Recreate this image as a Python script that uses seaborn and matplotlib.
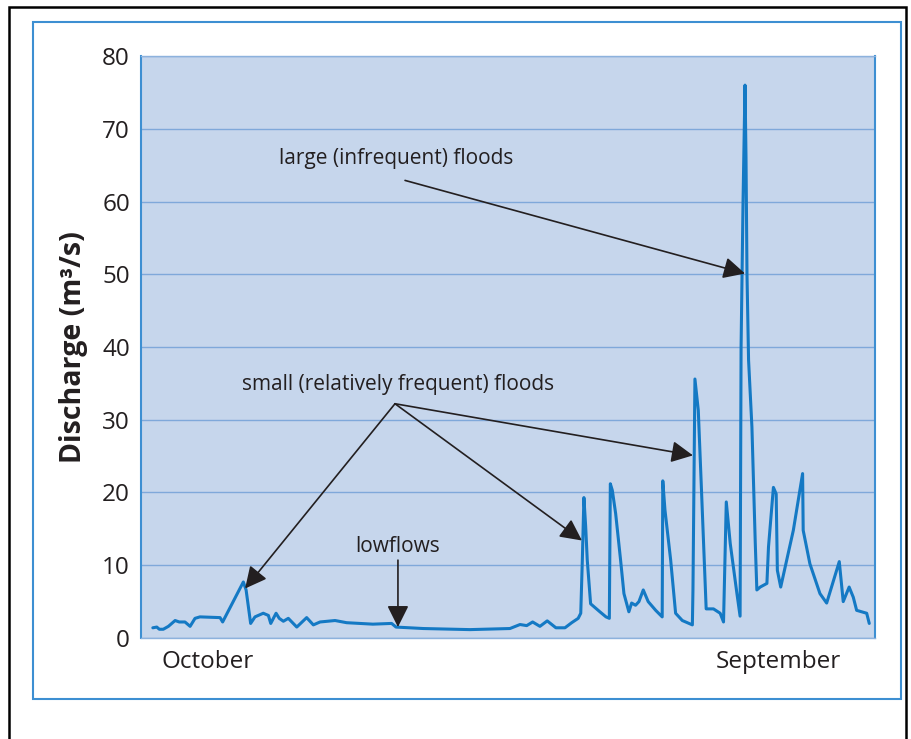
import numpy as np
import pandas as pd
import seaborn as sns
import matplotlib.pyplot as plt
from matplotlib.patches import Rectangle

# %% data: day of water year (Oct -> Sep) and discharge (m3/s), read off the hydrograph
day = [0.4, 2.4, 3.7, 5.7, 8.3, 11.7, 13.8, 16.7, 19.3, 21.8, 24.3, 34.5, 35.8,
       46.3, 47.7, 50.0, 52.2, 56.4, 59.0, 60.2, 62.9, 64.5, 66.6, 69.1, 73.4,
       78.4, 81.8, 85.2, 92.8, 98.7, 112.0, 121.5, 123.7, 137.5, 161.2, 181.5,
       186.6, 190.0, 193.0, 196.7, 200.4, 204.8, 209.4, 212.8, 216.1, 217.4,
       218.2, 219.0, 219.9, 220.7, 222.4, 227.1, 230.2, 231.9, 232.4, 233.4,
       235.1, 237.6, 239.3, 241.8, 243.2, 245.2, 246.9, 249.1, 251.6, 255.4,
       258.7, 259.0, 260.1, 263.0, 265.5, 268.9, 272.3, 274.0, 274.3, 275.3,
       277.0, 278.7, 281.0, 284.7, 288.1, 289.8, 291.2, 293.2, 296.6, 298.2,
       298.7, 299.7, 300.7, 301.2, 301.7, 302.5, 304.2, 305.9, 306.7, 308.4,
       311.8, 312.6, 315.1, 316.5, 317.1, 318.8, 325.2, 329.9, 330.2, 333.6,
       338.7, 342.1, 348.5, 350.5, 353.5, 355.6, 357.3, 362.4, 363.7]
discharge = [1.4, 1.5, 1.2, 1.2, 1.6, 2.4, 2.2, 2.2, 1.6, 2.7, 2.9, 2.8, 2.2,
             7.7, 6.6, 2.0, 2.9, 3.4, 3.1, 2.0, 3.4, 2.7, 2.3, 2.7, 1.5,
             2.8, 1.8, 2.2, 2.4, 2.1, 1.9, 2.0, 1.5, 1.3, 1.15, 1.3,
             1.85, 1.7, 2.2, 1.6, 2.35, 1.4, 1.4, 2.1, 2.7, 3.4,
             10.7, 19.3, 15.3, 10.7, 4.7, 3.6, 2.9, 2.7, 21.2, 20.3,
             17.1, 10.7, 6.1, 3.6, 4.8, 4.5, 5.0, 6.6, 5.0, 3.8,
             2.9, 21.6, 17.6, 10.7, 3.4, 2.4, 2.0, 1.8, 6.6, 35.6,
             31.3, 19.8, 4.0, 4.0, 3.4, 2.2, 18.7, 13.0, 6.1, 3.0,
             40.0, 60.0, 76.0, 66.0, 50.0, 38.2, 29.0, 13.0, 6.6, 7.0,
             7.5, 12.5, 20.7, 19.8, 9.3, 7.0, 14.8, 22.6, 14.8, 10.2,
             6.1, 4.8, 10.5, 5.0, 7.0, 5.6, 3.8, 3.4, 2.0]

month_labels = ['October', 'September']
month_pos = [28.4, 317.4]
y_ticks = [0, 10, 20, 30, 40, 50, 60, 70, 80]

df = pd.DataFrame({'day': day, 'discharge': discharge})

# %% plot
sns.set_style('white', {'axes.facecolor': '#C6D6EC'})
plt.rcParams['font.family'] = ['Open Sans', 'DejaVu Sans']

fig = plt.figure(figsize=(9.12, 7.39), dpi=100)
ax = fig.add_axes([0.1546, 0.1367, 0.8048, 0.7875])

sns.lineplot(data=df, x='day', y='discharge', ax=ax, color='#1479C4',
             linewidth=2.2, sort=False)

ax.set_xlim(-5.6, 366.6)
ax.set_ylim(0, 80)
ax.set_yticks(y_ticks)
ax.set_xticks(month_pos)
ax.set_xticklabels(month_labels)
ax.tick_params(axis='both', length=0, labelsize=17.5, colors='#231F20')
ax.tick_params(axis='x', pad=9)
ax.tick_params(axis='y', pad=8)
ax.grid(axis='y', color='#7FA8DA', linewidth=1.0)
ax.set_axisbelow(True)
for s in ['left', 'right']:
    ax.spines[s].set_color('#3D8FD2')
    ax.spines[s].set_linewidth(1.5)
for s in ['top', 'bottom']:
    ax.spines[s].set_color('#8DB2DD')
    ax.spines[s].set_linewidth(1.0)

ax.set_xlabel('')
ax.set_ylabel('Discharge (m³/s)', fontsize=20.5, fontweight='bold', labelpad=10,
              color='#231F20')

# annotations
akw = dict(arrowstyle='-|>,head_length=0.6,head_width=0.3', color='#231F20',
           lw=1.2, mutation_scale=22, shrinkA=0, shrinkB=0)
ax.text(64.4, 65.9, 'large (infrequent) floods', fontsize=15, va='center',
        color='#231F20')
ax.annotate('', xy=(300.7, 50.1), xytext=(128.3, 62.9), arrowprops=akw)

ax.text(45.6, 34.9, 'small (relatively frequent) floods', fontsize=15,
        va='center', color='#231F20')
for hx, hy in [(47.2, 6.8), (218.0, 13.4), (274.3, 25.1)]:
    ax.annotate('', xy=(hx, hy), xytext=(123.2, 32.2), arrowprops=akw)

ax.text(124.7, 12.6, 'lowflows', fontsize=15, va='center', ha='center',
        color='#231F20')
ax.annotate('', xy=(124.7, 1.5), xytext=(124.7, 10.7), arrowprops=akw)

# frames around the figure
fig.patches.append(Rectangle((33 / 912, 1 - 699 / 739), 868 / 912, 677 / 739,
                             transform=fig.transFigure, fill=False,
                             edgecolor='#3D8FD2', linewidth=1.5))
fig.patches.append(Rectangle((9 / 912, -0.05), 897 / 912, 1.05 - 7 / 739,
                             transform=fig.transFigure, fill=False,
                             edgecolor='black', linewidth=1.8))

plt.savefig('out.png', dpi=100)
